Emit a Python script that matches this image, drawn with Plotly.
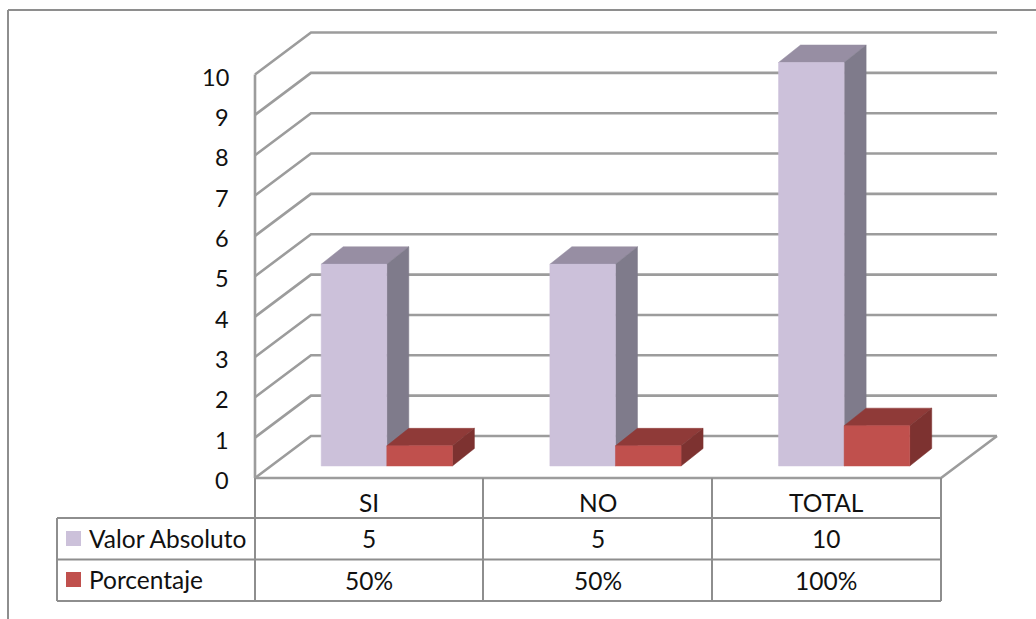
import plotly.graph_objects as go

# Chart data
categories = ["SI", "NO", "TOTAL"]
valor_absoluto = [5, 5, 10]
porcentaje = [0.5, 0.5, 1.0]
porcentaje_labels = ["50%", "50%", "100%"]
y_ticks = list(range(0, 11))

# Canvas and the pixel layout of the pseudo-3D plot box
W, H = 1036, 619
PLOT_LEFT, PLOT_RIGHT = 255, 941
FLOOR_Y, TOP_Y = 478, 74.5
CAT_PX = (PLOT_RIGHT - PLOT_LEFT) / len(categories)
UNIT_PX = (FLOOR_Y - TOP_Y) / 10

# Wall depth and bar depth, converted to axis units
WALL_DX, WALL_DY = 56 / CAT_PX, 42 / UNIT_PX
BAR_DX, BAR_DY = 22 / CAT_PX, 17.5 / UNIT_PX
BAR_W = 65.6 / CAT_PX
BAR_GAP_LEFT = 66.2 / CAT_PX
BAR_BASE_Y = 12 / UNIT_PX  # front faces stand forward of the back wall

GRID = "#9c9c9c"
FRAME = "#8e8e8e"
FONT = "Lato"
FONT_SIZE = 24.5
TICK_SIZE = 23.5
TEXT = "#111111"


def px_x(p):
    return p / W


def px_y(p):
    return 1 - p / H


fig = go.Figure()

# Side wall, back wall and floor edge
gx, gy = [], []
for v in y_ticks:
    gx += [0, WALL_DX, 3 + WALL_DX, None]
    gy += [v, v + WALL_DY, v + WALL_DY, None]
gx += [0, 0, None, 0, 3, 3 + WALL_DX]
gy += [0, 10, None, 0, 0, WALL_DY]
fig.add_trace(go.Scatter(x=gx, y=gy, mode="lines", hoverinfo="skip",
                         line=dict(color=GRID, width=2.6), showlegend=False))


def bar_faces(values, shift, front, top, side, name):
    """Add the top, side and front polygons of one series."""
    faces = {"top": ([], [], top), "side": ([], [], side), "front": ([], [], front)}
    for i, v in enumerate(values):
        x0 = i + BAR_GAP_LEFT + shift
        x1 = x0 + BAR_W
        b = BAR_BASE_Y
        t = b + v
        f = faces["front"]
        f[0].extend([x0, x1, x1, x0, x0, None])
        f[1].extend([b, b, t, t, b, None])
        f = faces["top"]
        f[0].extend([x0, x1, x1 + BAR_DX, x0 + BAR_DX, x0, None])
        f[1].extend([t, t, t + BAR_DY, t + BAR_DY, t, None])
        f = faces["side"]
        f[0].extend([x1, x1 + BAR_DX, x1 + BAR_DX, x1, x1, None])
        f[1].extend([b, b + BAR_DY, t + BAR_DY, t, b, None])
    for key in ("top", "side", "front"):
        xs, ys, color = faces[key]
        fig.add_trace(go.Scatter(x=xs, y=ys, mode="lines", fill="toself", fillcolor=color,
                                 line=dict(color=color, width=0.5), name=name,
                                 hoverinfo="skip", showlegend=False))


bar_faces(valor_absoluto, 0, "#CCC1DA", "#978EA3", "#7F7B8B", "Valor Absoluto")
bar_faces(porcentaje, BAR_W, "#C0504D", "#8F3A38", "#7D3230", "Porcentaje")

# Data table below the plot, plus the outer frame
shapes = []


def rule(x0, y0, x1, y1, color=FRAME, width=2):
    shapes.append(dict(type="line", xref="paper", yref="paper",
                       x0=px_x(x0), y0=px_y(y0), x1=px_x(x1), y1=px_y(y1),
                       line=dict(color=color, width=width)))


rule(8, 10, W, 10)
rule(8, 10, 8, H)
rule(57, 518, PLOT_RIGHT, 518)
rule(57, 559.5, PLOT_RIGHT, 559.5)
rule(57, 601, PLOT_RIGHT, 601)
rule(57, 518, 57, 601)
rule(255, 478, 255, 601)
rule(483, 478, 483, 601)
rule(712, 478, 712, 601)
rule(941, 478, 941, 601)

for (y0, color) in [(531, "#CCC1DA"), (572, "#C0504D")]:
    shapes.append(dict(type="rect", xref="paper", yref="paper",
                       x0=px_x(66), x1=px_x(81), y0=px_y(y0), y1=px_y(y0 + 15),
                       fillcolor=color, line=dict(width=0)))

annotations = []


def cell(text, x, y, anchor="center"):
    annotations.append(dict(text=text, xref="paper", yref="paper", x=px_x(x), y=px_y(y),
                            xanchor=anchor, yanchor="middle", showarrow=False,
                            font=dict(family=FONT, size=FONT_SIZE, color=TEXT)))


centers = [369, 598, 826]
for cx, c, v, p in zip(centers, categories, valor_absoluto, porcentaje_labels):
    cell(c, cx, 502)
    cell(str(v), cx, 538)
    cell(p, cx, 580)
cell("Valor Absoluto", 86.5, 538, "left")
cell("Porcentaje", 86.5, 579, "left")

# Value labels sit just left of the side wall, nudged slightly below each level
for v in y_ticks:
    annotations.append(dict(text=str(v), xref="x", yref="y", x=0, y=v,
                            xanchor="right", yanchor="middle", showarrow=False,
                            xshift=-24, yshift=-2,
                            font=dict(family=FONT, size=TICK_SIZE, color=TEXT)))

fig.update_layout(
    width=W, height=H, autosize=False,
    margin=dict(l=0, r=0, t=0, b=0),
    paper_bgcolor="white", plot_bgcolor="white",
    showlegend=False, shapes=shapes, annotations=annotations,
    xaxis=dict(range=[-PLOT_LEFT / CAT_PX, (W - PLOT_LEFT) / CAT_PX], visible=False, fixedrange=True),
    yaxis=dict(range=[(FLOOR_Y - H) / UNIT_PX, FLOOR_Y / UNIT_PX], visible=False, fixedrange=True),
)

fig.write_html("out.html", config=dict(displayModeBar=False))
